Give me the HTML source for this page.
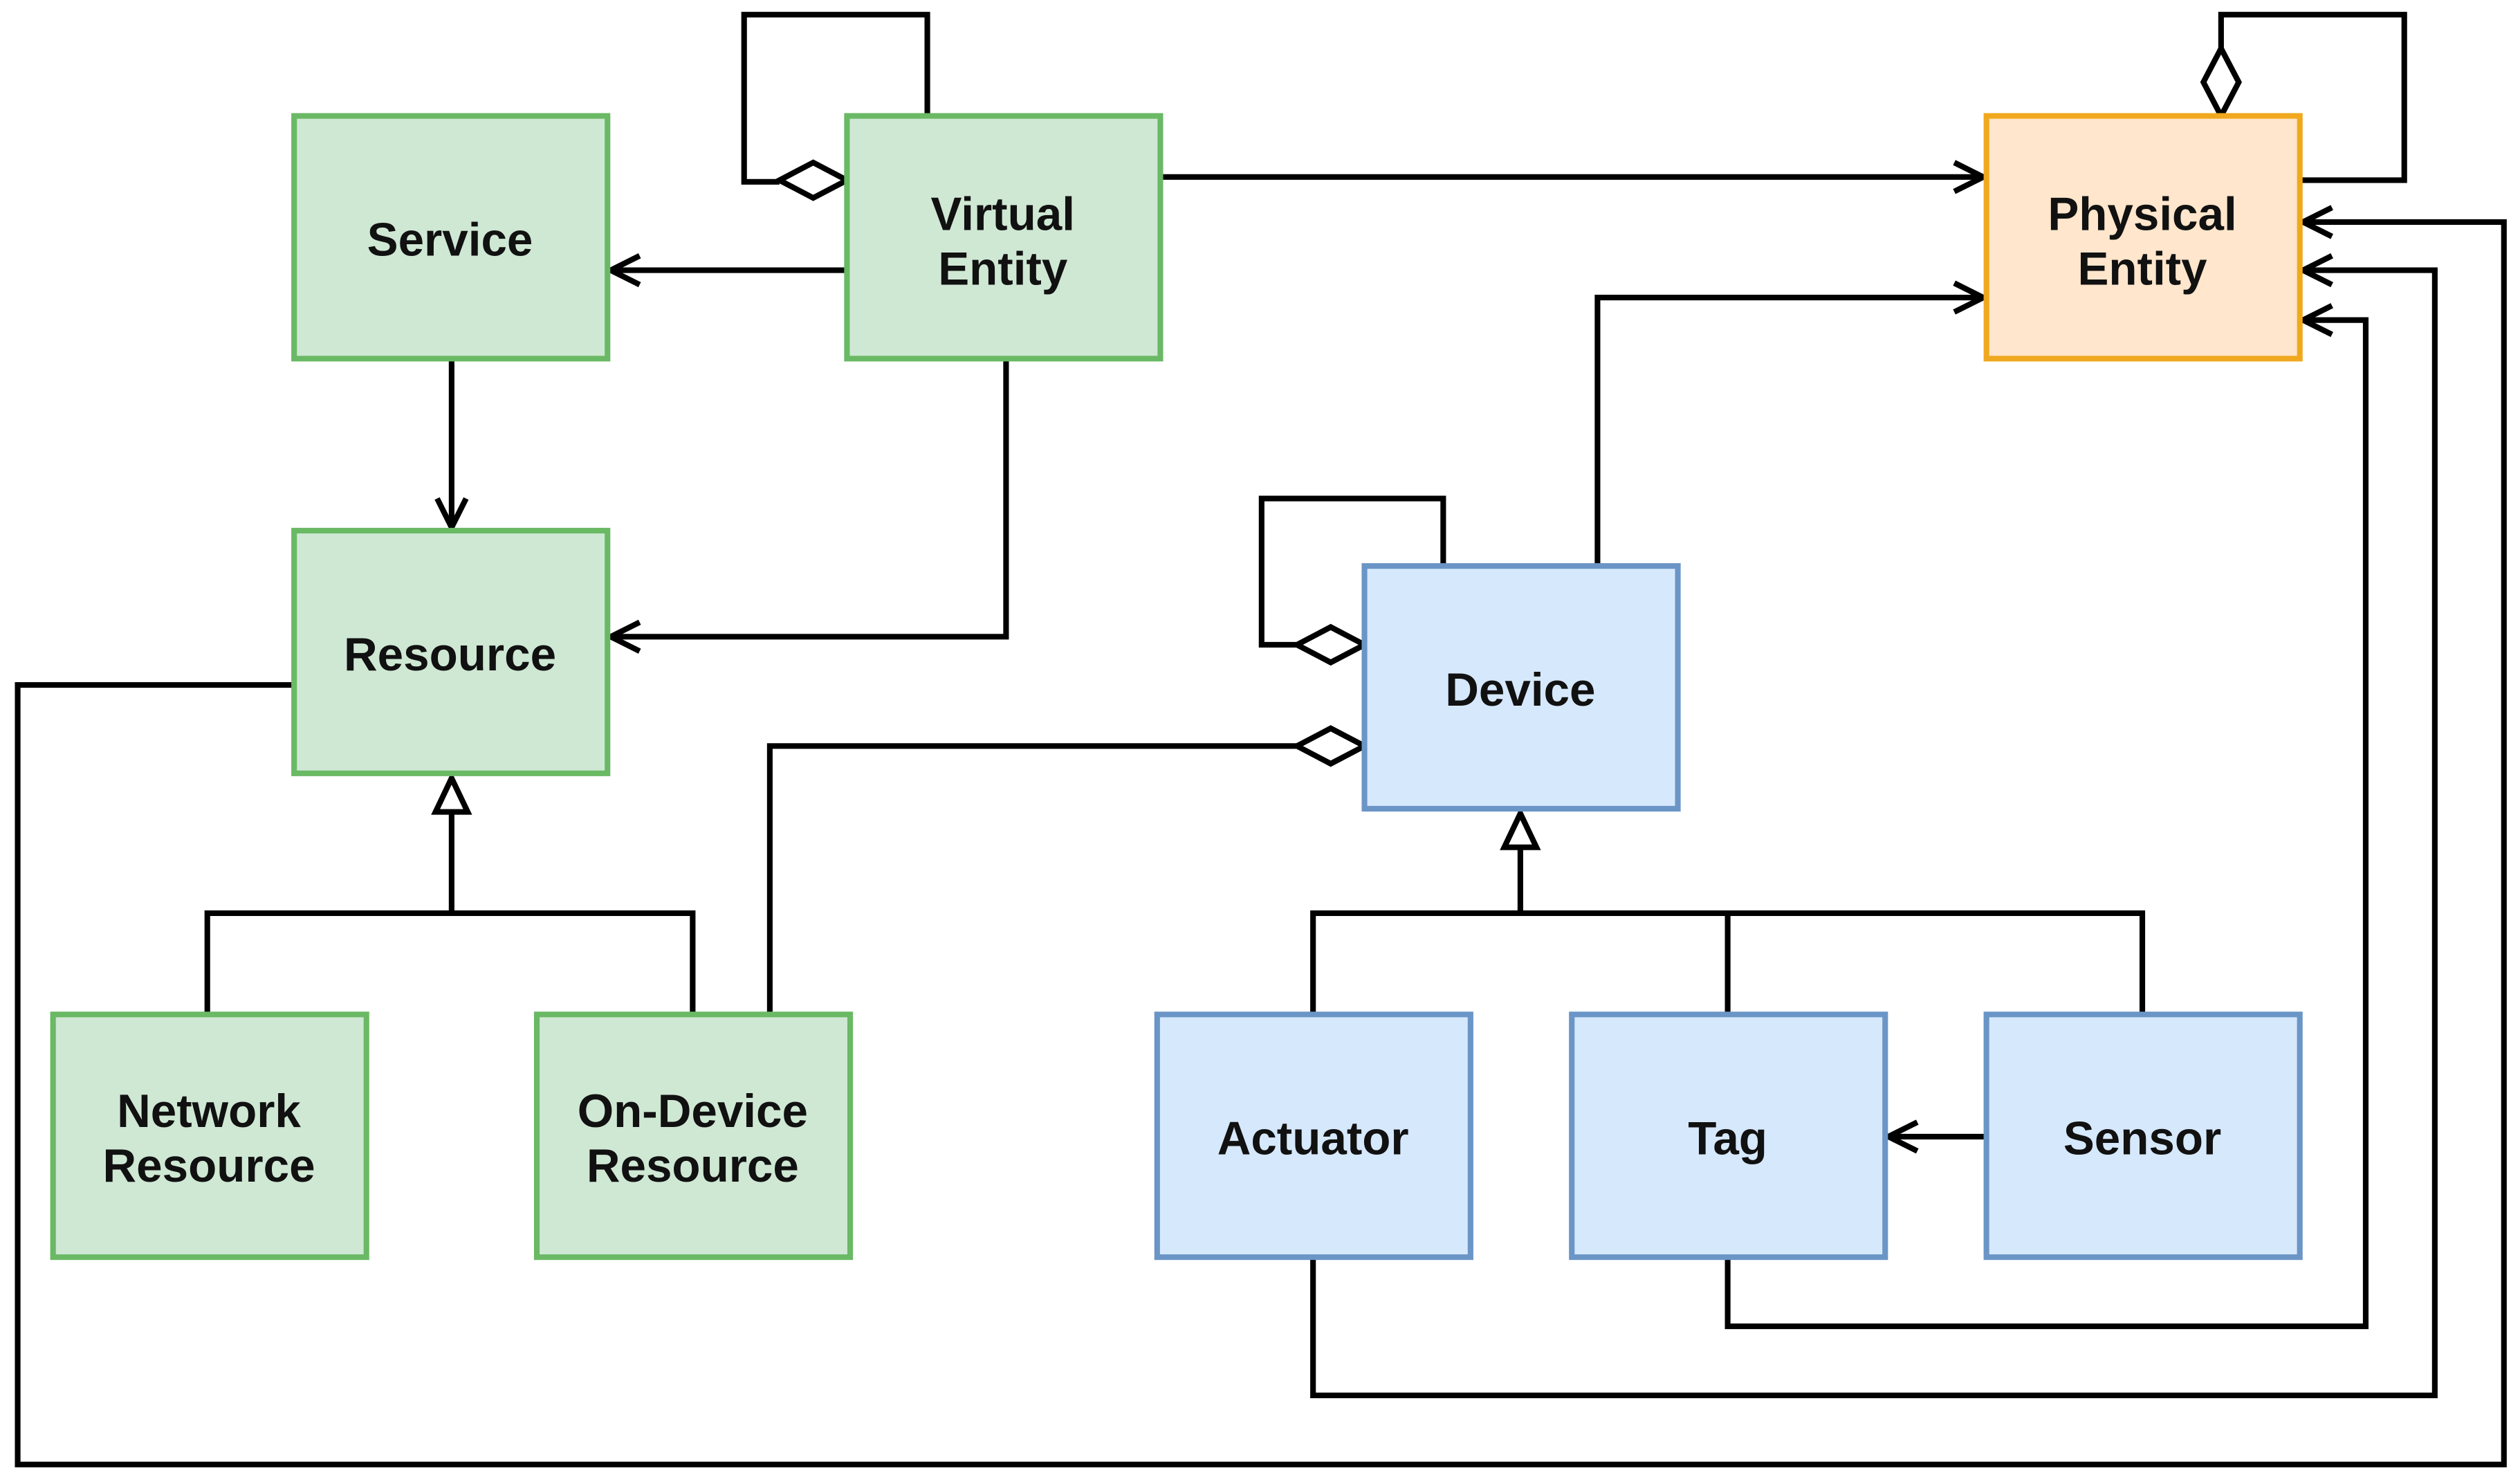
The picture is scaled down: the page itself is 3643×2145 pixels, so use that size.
<!DOCTYPE html>
<html><head><meta charset="utf-8"><style>
html,body{margin:0;padding:0;background:#fff;width:3643px;height:2145px;overflow:hidden}
svg{display:block}
text{font-family:"Liberation Sans",Arial,sans-serif;font-weight:bold;font-size:29px;fill:#111;text-anchor:middle}
</style></head><body>
<svg width="3643" height="2145" viewBox="0 0 1568 923" xmlns="http://www.w3.org/2000/svg">
<g fill="none" stroke="#000" stroke-width="3.5">
<polyline points="577,72 577,9 463,9 463,113 485,113"/>
<polygon points="485,112 506,101 527,112 506,123" fill="#fff"/>
<polyline points="722,110 1234,110"/>
<polyline points="1216,101 1234,110 1216,119"/>
<polyline points="527,168 380,168"/>
<polyline points="398,159 380,168 398,177"/>
<polyline points="281,223 281,328"/>
<polyline points="272,310 281,328 290,310"/>
<polyline points="626,223 626,396 380,396"/>
<polyline points="398,387 380,396 398,405"/>
<polyline points="183,426 11,426 11,911 1558,911 1558,138 1433,138"/>
<polyline points="1451,129 1433,138 1451,147"/>
<polyline points="129,631 129,568 431,568 431,631"/>
<polyline points="281,568 281,505"/>
<polygon points="281,484 271,505 291,505" fill="#fff"/>
<polyline points="479,631 479,464 807,464"/>
<polygon points="807,464 828,453 849,464 828,475" fill="#fff"/>
<polyline points="898,352 898,310 785,310 785,401 807,401"/>
<polygon points="807,401 828,390 849,401 828,412" fill="#fff"/>
<polyline points="994,352 994,185 1234,185"/>
<polyline points="1216,176 1234,185 1216,194"/>
<polyline points="817,631 817,568 1333,568 1333,631"/>
<polyline points="1075,568 1075,631"/>
<polyline points="946,568 946,527"/>
<polygon points="946,506 936,527 956,527" fill="#fff"/>
<polyline points="1236,707 1175,707"/>
<polyline points="1193,698 1175,707 1193,716"/>
<polyline points="1075,782 1075,825 1472,825 1472,199 1433,199"/>
<polyline points="1451,190 1433,199 1451,208"/>
<polyline points="817,782 817,868 1515,868 1515,168 1433,168"/>
<polyline points="1451,159 1433,168 1451,177"/>
<polyline points="1431,112 1496,112 1496,9 1382,9 1382,30"/>
<polygon points="1382,30 1393,51 1382,72 1371,51" fill="#fff"/>
</g>
<g stroke-width="3.5">
<rect x="183" y="72" width="195" height="151" fill="#cfe8d4" stroke="#6ab964"/>
<rect x="527" y="72" width="195" height="151" fill="#cfe8d4" stroke="#6ab964"/>
<rect x="1236" y="72" width="195" height="151" fill="#ffe6cc" stroke="#f0a81e"/>
<rect x="183" y="330" width="195" height="151" fill="#cfe8d4" stroke="#6ab964"/>
<rect x="33" y="631" width="195" height="151" fill="#cfe8d4" stroke="#6ab964"/>
<rect x="334" y="631" width="195" height="151" fill="#cfe8d4" stroke="#6ab964"/>
<rect x="849" y="352" width="195" height="151" fill="#d6e8fc" stroke="#6a95c6"/>
<rect x="720" y="631" width="195" height="151" fill="#d6e8fc" stroke="#6a95c6"/>
<rect x="978" y="631" width="195" height="151" fill="#d6e8fc" stroke="#6a95c6"/>
<rect x="1236" y="631" width="195" height="151" fill="#d6e8fc" stroke="#6a95c6"/>
</g>
<text x="280" y="159">Service</text>
<text x="624" y="143">Virtual</text>
<text x="624" y="177">Entity</text>
<text x="1333" y="143">Physical</text>
<text x="1333" y="177">Entity</text>
<text x="280" y="417">Resource</text>
<text x="130" y="701">Network</text>
<text x="130" y="735">Resource</text>
<text x="431" y="701">On-Device</text>
<text x="431" y="735">Resource</text>
<text x="946" y="439">Device</text>
<text x="817" y="718">Actuator</text>
<text x="1075" y="718">Tag</text>
<text x="1333" y="718">Sensor</text>
</svg>
</body></html>
